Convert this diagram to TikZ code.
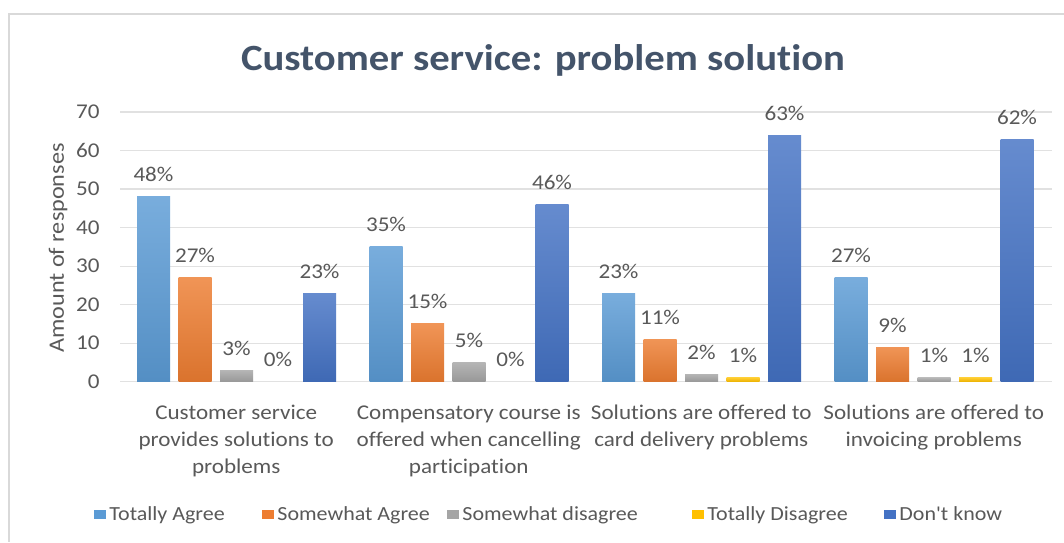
\documentclass[tikz,border=0pt]{standalone}
\usepackage{fontspec}
\setmainfont{Carlito}[FakeStretch=1.1, Ligatures={TeXOff,CommonOff}]
\definecolor{agreeblue}{HTML}{5B9BD5}
\definecolor{agreeorange}{HTML}{ED7D31}
\definecolor{disgray}{HTML}{A5A5A5}
\definecolor{disgold}{HTML}{FFC000}
\definecolor{dkblue}{HTML}{4472C4}
\definecolor{txtgray}{HTML}{595959}
\definecolor{titlegray}{HTML}{44546A}
\definecolor{gridgray}{HTML}{D9D9D9}
\tikzset{
  barfill/.style={top color=#1!82!white, bottom color=#1!92!black},
  datalbl/.style={font=\fontsize{10.5}{12}\selectfont, text=txtgray, anchor=base, inner sep=0pt, yshift=7.5pt},
  ticklbl/.style={font=\fontsize{10.5}{12}\selectfont, text=txtgray, anchor=east, inner sep=0pt},
  catlbl/.style={font=\fontsize{10.5}{13.5}\selectfont, text=txtgray, anchor=north, inner sep=0pt, align=center},
  leglbl/.style={font=\fontsize{10}{12}\selectfont, text=txtgray, anchor=base west, inner sep=0pt},
  gridline/.style={gridgray!80, line width=0.6pt}
}

\begin{document}
\begin{tikzpicture}[x=0.5pt, y=-0.5pt]
  \useasboundingbox[fill=white] (0,0) rectangle (1064,542);
  % chart frame
  \draw[gridgray, line width=0.8pt] (1064,14) -- (9,14) -- (9,542);

  \node[font=\fontsize{18.5}{22}\selectfont\bfseries, text=titlegray] (title) at (543,60) {Customer service: problem solution};

  % value axis
  \foreach \k in {0,...,7} {
    \draw[gridline] (120,381.7-38.53*\k) -- (1052,381.7-38.53*\k);
    \node[ticklbl] (tick\k) at (100,381.7-38.53*\k) {\the\numexpr\k*10\relax};
  }
  \node[font=\fontsize{11}{14}\selectfont, text=txtgray, rotate=90] (ytitle) at (58,248) {Amount of responses};

  % bars, one unit = one response
  \begin{scope}[shift={(120,381.7)}, x=0.5pt, y=1.9265pt]
    \shade[barfill=agreeblue] (17,0) rectangle (50,48);
    \shade[barfill=agreeorange] (58.5,0) rectangle (91.5,27);
    \shade[barfill=disgray] (100,0) rectangle (133,3);
    \shade[barfill=dkblue] (183,0) rectangle (216,23);

    \shade[barfill=agreeblue] (249.5,0) rectangle (282.5,35);
    \shade[barfill=agreeorange] (291,0) rectangle (324,15);
    \shade[barfill=disgray] (332.5,0) rectangle (365.5,5);
    \shade[barfill=dkblue] (415.5,0) rectangle (448.5,46);

    \shade[barfill=agreeblue] (482,0) rectangle (515,23);
    \shade[barfill=agreeorange] (523.5,0) rectangle (556.5,11);
    \shade[barfill=disgray] (565,0) rectangle (598,2);
    \shade[barfill=disgold] (606.5,0) rectangle (639.5,1);
    \shade[barfill=dkblue] (648,0) rectangle (681,63.8);

    \shade[barfill=agreeblue] (714.5,0) rectangle (747.5,27);
    \shade[barfill=agreeorange] (756,0) rectangle (789,9);
    \shade[barfill=disgray] (797.5,0) rectangle (830.5,1);
    \shade[barfill=disgold] (839,0) rectangle (872,1);
    \shade[barfill=dkblue] (880.5,0) rectangle (913.5,62.8);

    \node[datalbl] (pa1) at (33.5,48) {48\%};
    \node[datalbl] (pa2) at (75,27) {27\%};
    \node[datalbl] (pa3) at (116.5,3) {3\%};
    \node[datalbl] (pa4) at (158,0) {0\%};
    \node[datalbl] (pa5) at (199.5,23) {23\%};

    \node[datalbl] (pb1) at (266,35) {35\%};
    \node[datalbl] (pb2) at (307.5,15) {15\%};
    \node[datalbl] (pb3) at (349,5) {5\%};
    \node[datalbl] (pb4) at (390.5,0) {0\%};
    \node[datalbl] (pb5) at (432,46) {46\%};

    \node[datalbl] (pc1) at (498.5,23) {23\%};
    \node[datalbl] (pc2) at (540,11) {11\%};
    \node[datalbl] (pc3) at (581.5,2) {2\%};
    \node[datalbl] (pc4) at (623,1) {1\%};
    \node[datalbl] (pc5) at (664.5,63.8) {63\%};

    \node[datalbl] (pd1) at (731,27) {27\%};
    \node[datalbl] (pd2) at (772.5,9) {9\%};
    \node[datalbl] (pd3) at (814,1) {1\%};
    \node[datalbl] (pd4) at (855.5,1) {1\%};
    \node[datalbl] (pd5) at (897,62.8) {62\%};
  \end{scope}

  % categories
  \node[catlbl] (cat1) at (236.25,405) {Customer service\\provides solutions to\\problems};
  \node[catlbl] (cat2) at (468.75,405) {Compensatory course is\\offered when cancelling\\participation};
  \node[catlbl] (cat3) at (701.25,405) {Solutions are offered to\\card delivery problems};
  \node[catlbl] (cat4) at (933.75,405) {Solutions are offered to\\invoicing problems};

  % legend
  \fill[agreeblue] (94,510) rectangle (106,519);
  \node[leglbl] (leg1) at (109,520) {Totally Agree};
  \fill[agreeorange] (262,510) rectangle (274,519);
  \node[leglbl] (leg2) at (277,520) {Somewhat Agree};
  \fill[disgray] (447,510) rectangle (459,519);
  \node[leglbl] (leg3) at (462,520) {Somewhat disagree};
  \fill[disgold] (692,510) rectangle (704,519);
  \node[leglbl] (leg4) at (707,520) {Totally Disagree};
  \fill[dkblue] (884,510) rectangle (896,519);
  \node[leglbl] (leg5) at (899,520) {Don't know};
\end{tikzpicture}
\end{document}
